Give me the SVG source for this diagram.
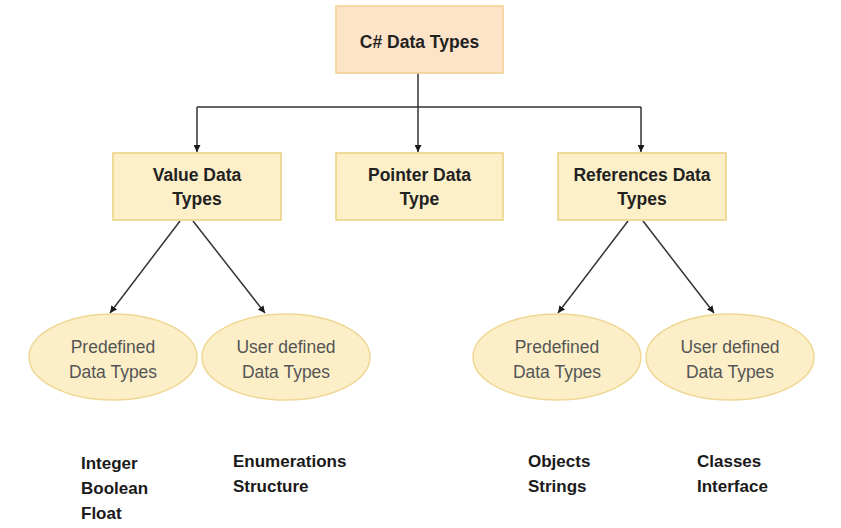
<svg xmlns="http://www.w3.org/2000/svg" width="841" height="528" viewBox="0 0 841 528">
<style>
.top{fill:#fde4c8;stroke:#f2cf8e;stroke-width:1.5}
.box{fill:#fdf0c9;stroke:#ead07e;stroke-width:1.5}
.ell{fill:#fcefc8;stroke:#efd793;stroke-width:1.5}
.bt{font-family:"Liberation Sans",Arial,sans-serif;font-size:17.5px;font-weight:bold;fill:#222;text-anchor:middle}
.et{font-family:"Liberation Sans",Arial,sans-serif;font-size:17.5px;fill:#555;text-anchor:middle}
.lt{font-family:"Liberation Sans",Arial,sans-serif;font-size:17px;font-weight:bold;fill:#1a1a1a}
.ln{fill:none;stroke:#333;stroke-width:1.5}
</style>
<defs>
<marker id="ah" viewBox="0 0 10 10" refX="10" refY="5" markerWidth="7" markerHeight="7" markerUnits="userSpaceOnUse" orient="auto">
<path d="M0,0 L10,5 L0,10 z" fill="#1a1a1a"/>
</marker>
</defs>
<rect width="841" height="528" fill="#fff"/>
<g id="connectors">
<path class="ln" d="M418,73 V107"/>
<path class="ln" d="M197,107 H641"/>
<path class="ln" d="M197,107 V152" marker-end="url(#ah)"/>
<path class="ln" d="M418,107 V152" marker-end="url(#ah)"/>
<path class="ln" d="M641,107 V152" marker-end="url(#ah)"/>
<path class="ln" d="M180,221 L110,313" marker-end="url(#ah)"/>
<path class="ln" d="M193,221 L265,313" marker-end="url(#ah)"/>
<path class="ln" d="M628,221 L558,313" marker-end="url(#ah)"/>
<path class="ln" d="M643,221 L714,313" marker-end="url(#ah)"/>
</g>
<g id="csharp">
<rect class="top" x="336" y="6" width="167" height="67"/>
<text class="bt" x="419.5" y="48">C# Data Types</text>
</g>
<g id="value">
<rect class="box" x="113" y="153" width="168" height="67"/>
<text class="bt" x="197" y="181">Value Data</text>
<text class="bt" x="197" y="205">Types</text>
</g>
<g id="pointer">
<rect class="box" x="336" y="153" width="167" height="67"/>
<text class="bt" x="419.5" y="181">Pointer Data</text>
<text class="bt" x="419.5" y="205">Type</text>
</g>
<g id="references">
<rect class="box" x="558" y="153" width="168" height="67"/>
<text class="bt" x="642" y="181">References Data</text>
<text class="bt" x="642" y="205">Types</text>
</g>
<g id="vpre">
<ellipse class="ell" cx="113" cy="357" rx="84" ry="43"/>
<text class="et" x="113" y="353">Predefined</text>
<text class="et" x="113" y="378">Data Types</text>
</g>
<g id="vuser">
<ellipse class="ell" cx="286" cy="357" rx="84" ry="43"/>
<text class="et" x="286" y="353">User defined</text>
<text class="et" x="286" y="378">Data Types</text>
</g>
<g id="rpre">
<ellipse class="ell" cx="557" cy="357" rx="84" ry="43"/>
<text class="et" x="557" y="353">Predefined</text>
<text class="et" x="557" y="378">Data Types</text>
</g>
<g id="ruser">
<ellipse class="ell" cx="730" cy="357" rx="84" ry="43"/>
<text class="et" x="730" y="353">User defined</text>
<text class="et" x="730" y="378">Data Types</text>
</g>
<g id="vpre-list">
<text class="lt" x="81" y="469">Integer</text>
<text class="lt" x="81" y="494">Boolean</text>
<text class="lt" x="81" y="519">Float</text>
</g>
<g id="vuser-list">
<text class="lt" x="233" y="467">Enumerations</text>
<text class="lt" x="233" y="492">Structure</text>
</g>
<g id="rpre-list">
<text class="lt" x="528" y="467">Objects</text>
<text class="lt" x="528" y="492">Strings</text>
</g>
<g id="ruser-list">
<text class="lt" x="697" y="467">Classes</text>
<text class="lt" x="697" y="492">Interface</text>
</g>
</svg>
